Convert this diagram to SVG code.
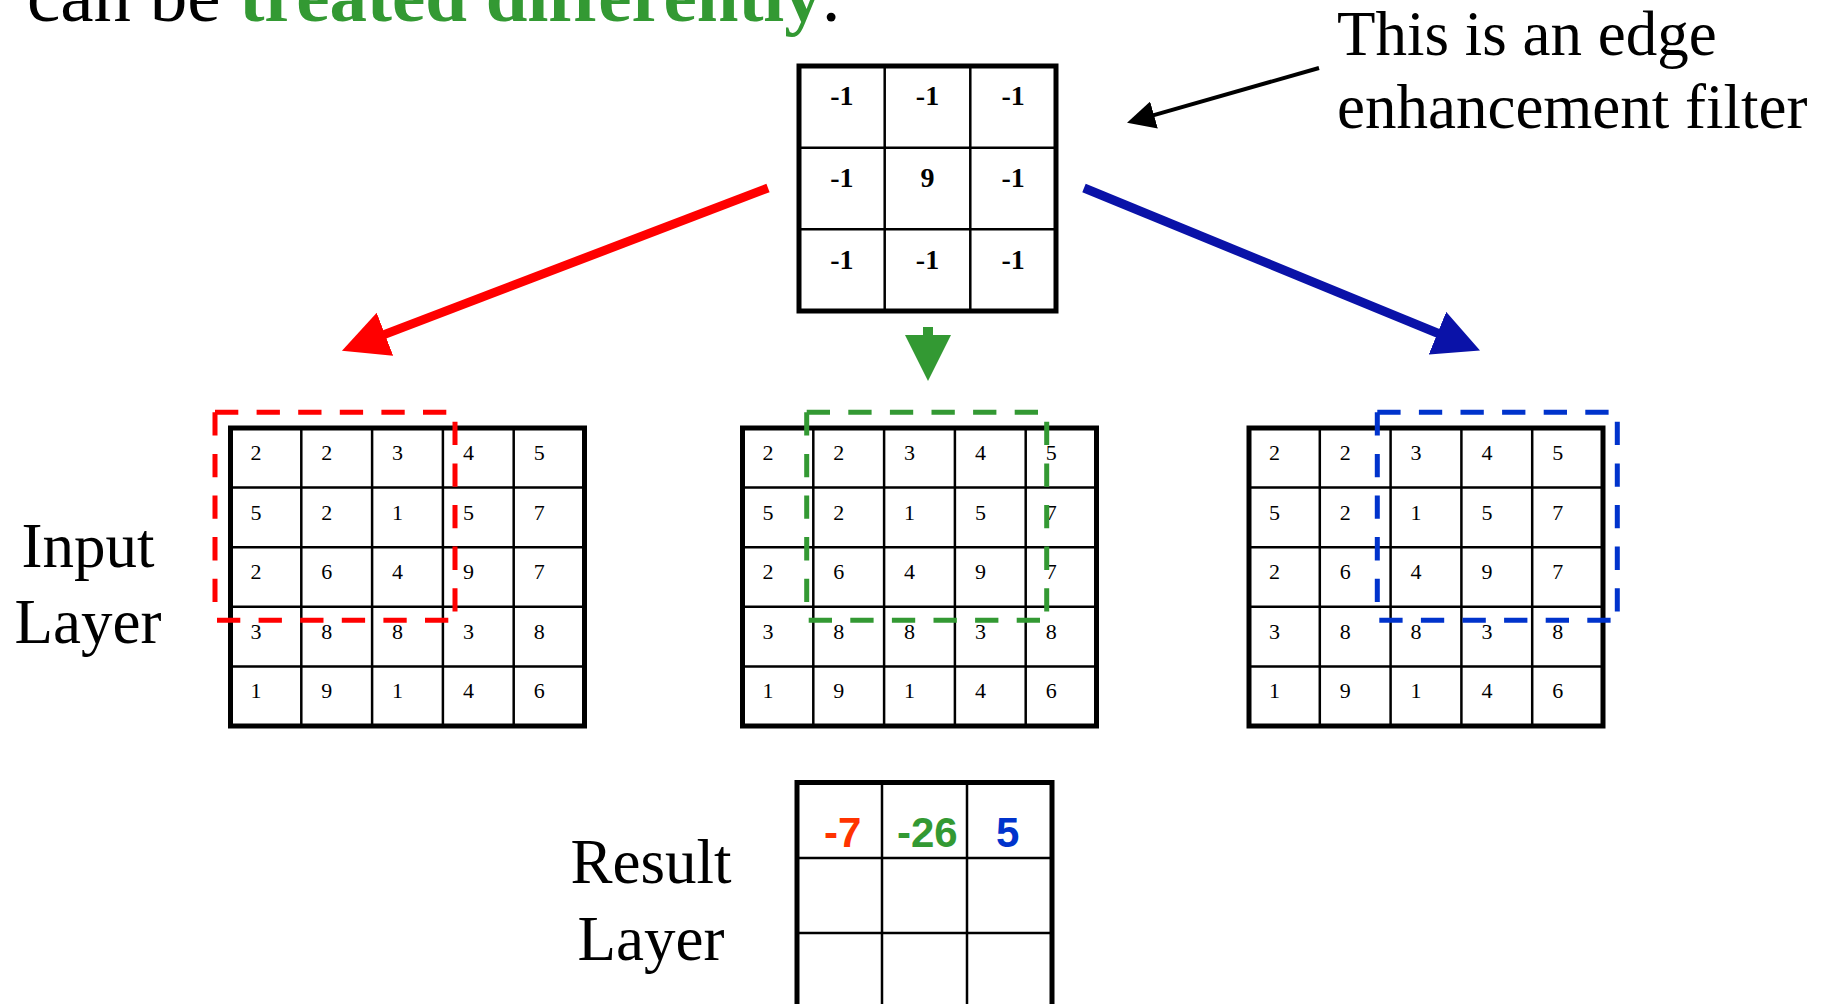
<svg xmlns="http://www.w3.org/2000/svg" width="1836" height="1004" viewBox="0 0 1836 1004">
<style>
.serif{font-family:"Liberation Serif","Times New Roman",serif}
.big{font-size:63px;fill:#000}
.cell{font-family:"Liberation Serif","Times New Roman",serif;font-size:22px;fill:#000}
.fcell{font-family:"Liberation Serif","Times New Roman",serif;font-size:28px;font-weight:bold;fill:#000;text-anchor:middle}
.res{font-family:"Liberation Sans",Arial,sans-serif;font-size:42px;font-weight:bold}
.outer{fill:#fff;stroke:#000;stroke-width:5}
.inner{fill:none;stroke:#000;stroke-width:2.5}
.dash{fill:none;stroke-width:5;stroke-dasharray:23.3 18.3}
</style>
<defs>
<marker id="hRed" markerUnits="userSpaceOnUse" markerWidth="47" markerHeight="46" refX="1" refY="23" orient="auto"><path d="M0,0 L46,23 L0,46 Z" fill="#FF0000"/></marker>
<marker id="hBlue" markerUnits="userSpaceOnUse" markerWidth="47" markerHeight="46" refX="1" refY="23" orient="auto"><path d="M0,0 L46,23 L0,46 Z" fill="#0A12A8"/></marker>
<marker id="hGreen" markerUnits="userSpaceOnUse" markerWidth="47" markerHeight="46" refX="1" refY="23" orient="auto"><path d="M0,0 L46,23 L0,46 Z" fill="#339933"/></marker>
<marker id="hBlack" markerUnits="userSpaceOnUse" markerWidth="29" markerHeight="28" refX="1" refY="14" orient="auto"><path d="M0,0 L28,14 L0,28 Z" fill="#000"/></marker>
<path id="frame" d="M0,0 H240 M0,0 V208 M2,208 H240 M240,9.5 V208"/>
</defs>
<rect width="1836" height="1004" fill="#fff"/>

<g id="title">
<text class="serif" x="27" y="21" font-size="75" fill="#000">can be <tspan font-weight="bold" fill="#339933">treated differently</tspan>.</text>
</g>

<g id="annotation">
<text class="serif big" x="1337" y="55">This is an edge</text>
<text class="serif big" x="1337" y="128">enhancement filter</text>
</g>

<g id="filter">
<rect class="outer" x="799" y="66" width="257" height="245"/>
<path class="inner" d="M884.7,66 V311 M970.3,66 V311 M799,147.7 H1056 M799,229.3 H1056"/>
<text class="fcell" x="841.8" y="105">-1</text><text class="fcell" x="927.5" y="105">-1</text><text class="fcell" x="1013.2" y="105">-1</text>
<text class="fcell" x="841.8" y="187">-1</text><text class="fcell" x="927.5" y="187">9</text><text class="fcell" x="1013.2" y="187">-1</text>
<text class="fcell" x="841.8" y="269">-1</text><text class="fcell" x="927.5" y="269">-1</text><text class="fcell" x="1013.2" y="269">-1</text>
</g>

<g id="connectors">
<line x1="768" y1="188" x2="384" y2="334.6" stroke="#FF0000" stroke-width="9" marker-end="url(#hRed)"/>
<line x1="1084" y1="188" x2="1438.4" y2="333.5" stroke="#0A12A8" stroke-width="9" marker-end="url(#hBlue)"/>
<line x1="928" y1="327" x2="928" y2="336" stroke="#339933" stroke-width="10" marker-end="url(#hGreen)"/>
<line x1="1319" y1="68" x2="1153" y2="115.3" stroke="#000" stroke-width="4" marker-end="url(#hBlack)"/>
</g>

<g id="input-label">
<text class="serif big" x="88" y="567" text-anchor="middle">Input</text>
<text class="serif big" x="88" y="643" text-anchor="middle">Layer</text>
</g>

<g id="input-red">
<rect class="outer" x="230.5" y="428" width="354" height="298"/>
<path class="inner" d="M301.3,428 V726 M372.1,428 V726 M442.9,428 V726 M513.7,428 V726 M230.5,487.6 H584.5 M230.5,547.2 H584.5 M230.5,606.8 H584.5 M230.5,666.4 H584.5"/>
<text class="cell" x="250.5" y="460">2</text><text class="cell" x="321.3" y="460">2</text><text class="cell" x="392.1" y="460">3</text><text class="cell" x="462.9" y="460">4</text><text class="cell" x="533.7" y="460">5</text>
<text class="cell" x="250.5" y="519.6">5</text><text class="cell" x="321.3" y="519.6">2</text><text class="cell" x="392.1" y="519.6">1</text><text class="cell" x="462.9" y="519.6">5</text><text class="cell" x="533.7" y="519.6">7</text>
<text class="cell" x="250.5" y="579.2">2</text><text class="cell" x="321.3" y="579.2">6</text><text class="cell" x="392.1" y="579.2">4</text><text class="cell" x="462.9" y="579.2">9</text><text class="cell" x="533.7" y="579.2">7</text>
<text class="cell" x="250.5" y="638.8">3</text><text class="cell" x="321.3" y="638.8">8</text><text class="cell" x="392.1" y="638.8">8</text><text class="cell" x="462.9" y="638.8">3</text><text class="cell" x="533.7" y="638.8">8</text>
<text class="cell" x="250.5" y="698.4">1</text><text class="cell" x="321.3" y="698.4">9</text><text class="cell" x="392.1" y="698.4">1</text><text class="cell" x="462.9" y="698.4">4</text><text class="cell" x="533.7" y="698.4">6</text>
<use href="#frame" class="dash" stroke="#FF0000" transform="translate(215,412.3)"/>
</g>

<g id="input-green">
<rect class="outer" x="742.5" y="428" width="354" height="298"/>
<path class="inner" d="M813.3,428 V726 M884.1,428 V726 M954.9,428 V726 M1025.7,428 V726 M742.5,487.6 H1096.5 M742.5,547.2 H1096.5 M742.5,606.8 H1096.5 M742.5,666.4 H1096.5"/>
<text class="cell" x="762.5" y="460">2</text><text class="cell" x="833.3" y="460">2</text><text class="cell" x="904.1" y="460">3</text><text class="cell" x="974.9" y="460">4</text><text class="cell" x="1045.7" y="460">5</text>
<text class="cell" x="762.5" y="519.6">5</text><text class="cell" x="833.3" y="519.6">2</text><text class="cell" x="904.1" y="519.6">1</text><text class="cell" x="974.9" y="519.6">5</text><text class="cell" x="1045.7" y="519.6">7</text>
<text class="cell" x="762.5" y="579.2">2</text><text class="cell" x="833.3" y="579.2">6</text><text class="cell" x="904.1" y="579.2">4</text><text class="cell" x="974.9" y="579.2">9</text><text class="cell" x="1045.7" y="579.2">7</text>
<text class="cell" x="762.5" y="638.8">3</text><text class="cell" x="833.3" y="638.8">8</text><text class="cell" x="904.1" y="638.8">8</text><text class="cell" x="974.9" y="638.8">3</text><text class="cell" x="1045.7" y="638.8">8</text>
<text class="cell" x="762.5" y="698.4">1</text><text class="cell" x="833.3" y="698.4">9</text><text class="cell" x="904.1" y="698.4">1</text><text class="cell" x="974.9" y="698.4">4</text><text class="cell" x="1045.7" y="698.4">6</text>
<use href="#frame" class="dash" stroke="#339933" transform="translate(806.7,412.3)"/>
</g>

<g id="input-blue">
<rect class="outer" x="1249" y="428" width="354" height="298"/>
<path class="inner" d="M1319.8,428 V726 M1390.6,428 V726 M1461.4,428 V726 M1532.2,428 V726 M1249,487.6 H1603 M1249,547.2 H1603 M1249,606.8 H1603 M1249,666.4 H1603"/>
<text class="cell" x="1269" y="460">2</text><text class="cell" x="1339.8" y="460">2</text><text class="cell" x="1410.6" y="460">3</text><text class="cell" x="1481.4" y="460">4</text><text class="cell" x="1552.2" y="460">5</text>
<text class="cell" x="1269" y="519.6">5</text><text class="cell" x="1339.8" y="519.6">2</text><text class="cell" x="1410.6" y="519.6">1</text><text class="cell" x="1481.4" y="519.6">5</text><text class="cell" x="1552.2" y="519.6">7</text>
<text class="cell" x="1269" y="579.2">2</text><text class="cell" x="1339.8" y="579.2">6</text><text class="cell" x="1410.6" y="579.2">4</text><text class="cell" x="1481.4" y="579.2">9</text><text class="cell" x="1552.2" y="579.2">7</text>
<text class="cell" x="1269" y="638.8">3</text><text class="cell" x="1339.8" y="638.8">8</text><text class="cell" x="1410.6" y="638.8">8</text><text class="cell" x="1481.4" y="638.8">3</text><text class="cell" x="1552.2" y="638.8">8</text>
<text class="cell" x="1269" y="698.4">1</text><text class="cell" x="1339.8" y="698.4">9</text><text class="cell" x="1410.6" y="698.4">1</text><text class="cell" x="1481.4" y="698.4">4</text><text class="cell" x="1552.2" y="698.4">6</text>
<use href="#frame" class="dash" stroke="#0033CC" transform="translate(1377.3,412.3)"/>
</g>

<g id="result-label">
<text class="serif big" x="651" y="883" text-anchor="middle">Result</text>
<text class="serif big" x="651" y="960" text-anchor="middle">Layer</text>
</g>

<g id="result">
<rect class="outer" x="797" y="782.5" width="255" height="300"/>
<path class="inner" d="M882,782.5 V1010 M967,782.5 V1010 M797,858 H1052 M797,933 H1052"/>
<text class="res" x="824" y="847" fill="#FF3300">-7</text>
<text class="res" x="897" y="847" fill="#339933">-26</text>
<text class="res" x="996" y="847" fill="#0033CC">5</text>
</g>
</svg>
